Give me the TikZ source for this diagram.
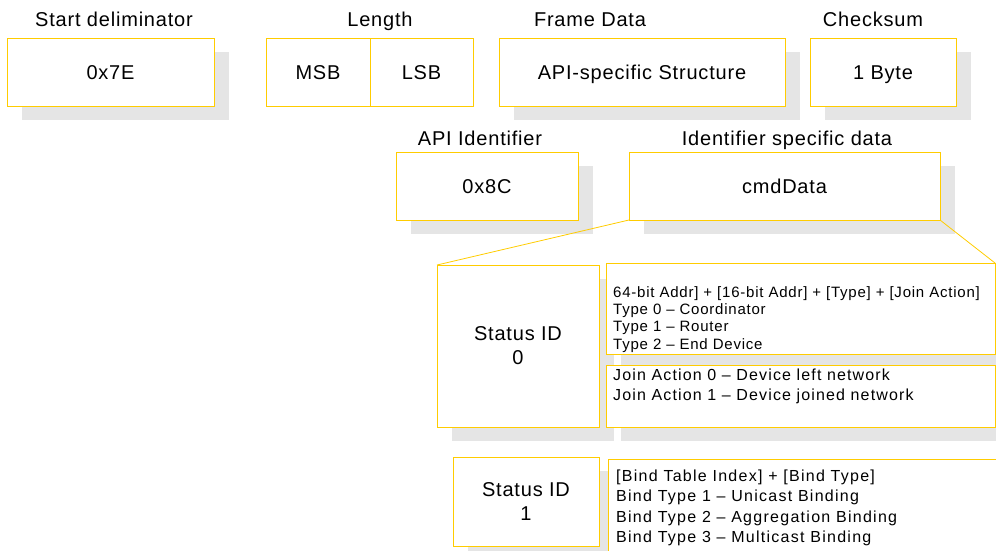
\documentclass[tikz,border=0pt]{standalone}
\usepackage{fontspec}
\setmainfont{Liberation Sans}[LetterSpace=4]
\usetikzlibrary{positioning, shadows}
\definecolor{frameyellow}{RGB}{255,204,0}
\definecolor{shadowgray}{RGB}{229,229,229}
\newcommand{\bigtxt}{\fontsize{20}{24}\selectfont}
\newcommand{\smalltxt}{\fontsize{15}{17.3}\selectfont\addfontfeature{LetterSpace=5.2}}

\begin{document}
\begin{tikzpicture}[x=1pt, y=-1pt,
		field/.style={draw=frameyellow, line width=0.8pt, fill=white, inner sep=0pt, outer sep=0pt, anchor=north west, font=\bigtxt},
		onerow/.style={field, text height=14.3pt, text depth=0pt},
		shadowed/.style={drop shadow={shadow xshift=15pt, shadow yshift=-14pt, fill=shadowgray, opacity=1}},
		fieldlabel/.style={anchor=base, inner sep=0pt, font=\bigtxt},
		info/.style={anchor=base west, align=left, inner sep=0pt},
		connector/.style={draw=frameyellow, line width=0.8pt}]
		\useasboundingbox (0,0) rectangle (996,550);
		\clip (0,0) rectangle (996,550);
		% top row: frame fields
		\node[onerow, shadowed, minimum width=207pt, minimum height=68pt] (start) at (7,38) {0x7E};
		\node[onerow, minimum width=104pt, minimum height=68pt] (msb) at (266,38) {MSB};
		\node[onerow, minimum width=103pt, minimum height=68pt, right=0pt of msb] (lsb) {LSB};
		\node[onerow, shadowed, minimum width=286pt, minimum height=68pt] (frame) at (499,38) {API-specific Structure};
		\node[onerow, shadowed, minimum width=146pt, minimum height=68pt] (chk) at (810,38) {1 Byte};
		\node[fieldlabel] (startlbl) at (114,26) {Start deliminator};
		\node[fieldlabel] (lenlbl) at (380,26) {Length};
		\node[fieldlabel] (framelbl) at (590,26) {Frame Data};
		\node[fieldlabel] (chklbl) at (873,26) {Checksum};
		% frame data
		\node[onerow, shadowed, minimum width=182pt, minimum height=68pt] (api) at (396,152) {0x8C};
		\node[onerow, shadowed, minimum width=311pt, minimum height=68pt] (cmd) at (629,152) {cmdData};
		\node[fieldlabel] (apilbl) at (480,145) {API Identifier};
		\node[fieldlabel] (cmdlbl) at (787,145) {Identifier specific data};
		% status 0
		\node[field, shadowed, align=center, minimum width=162pt, minimum height=162pt] (st0) at (437,265) {Status ID\\0};
		\node[field, shadowed, minimum width=389pt, minimum height=91pt] (typ) at (606,263) {};
		\node[field, shadowed, minimum width=389pt, minimum height=62pt] (join) at (606,365) {};
		\node[info, font=\smalltxt] (typtxt) at (613,349) {64-bit Addr] + [16-bit Addr] + [Type] + [Join Action]\\Type 0 – Coordinator\\Type 1 – Router\\Type 2 – End Device};
		\node[info, font=\fontsize{16}{19.3}\selectfont\addfontfeature{LetterSpace=7.2}] (jointxt) at (613,400) {Join Action 0 – Device left network\\Join Action 1 – Device joined network};
		% status 1
		\node[field, shadowed, align=center, minimum width=146pt, minimum height=89pt] (st1) at (453,457) {Status ID\\1};
		\node[field, shadowed, minimum width=400pt, minimum height=110pt] (bind) at (608,459) {};
		\node[info, font=\fontsize{16}{20.2}\selectfont\addfontfeature{LetterSpace=8}] (bindtxt) at (616,542.3) {[Bind Table Index] + [Bind Type]\\Bind Type 1 – Unicast Binding\\Bind Type 2 – Aggregation Binding\\Bind Type 3 – Multicast Binding};
		\draw[connector] (cmd.south west) -- (st0.north west);
		\draw[connector] (cmd.south east) -- (typ.north east);
	\end{tikzpicture}
\end{document}
